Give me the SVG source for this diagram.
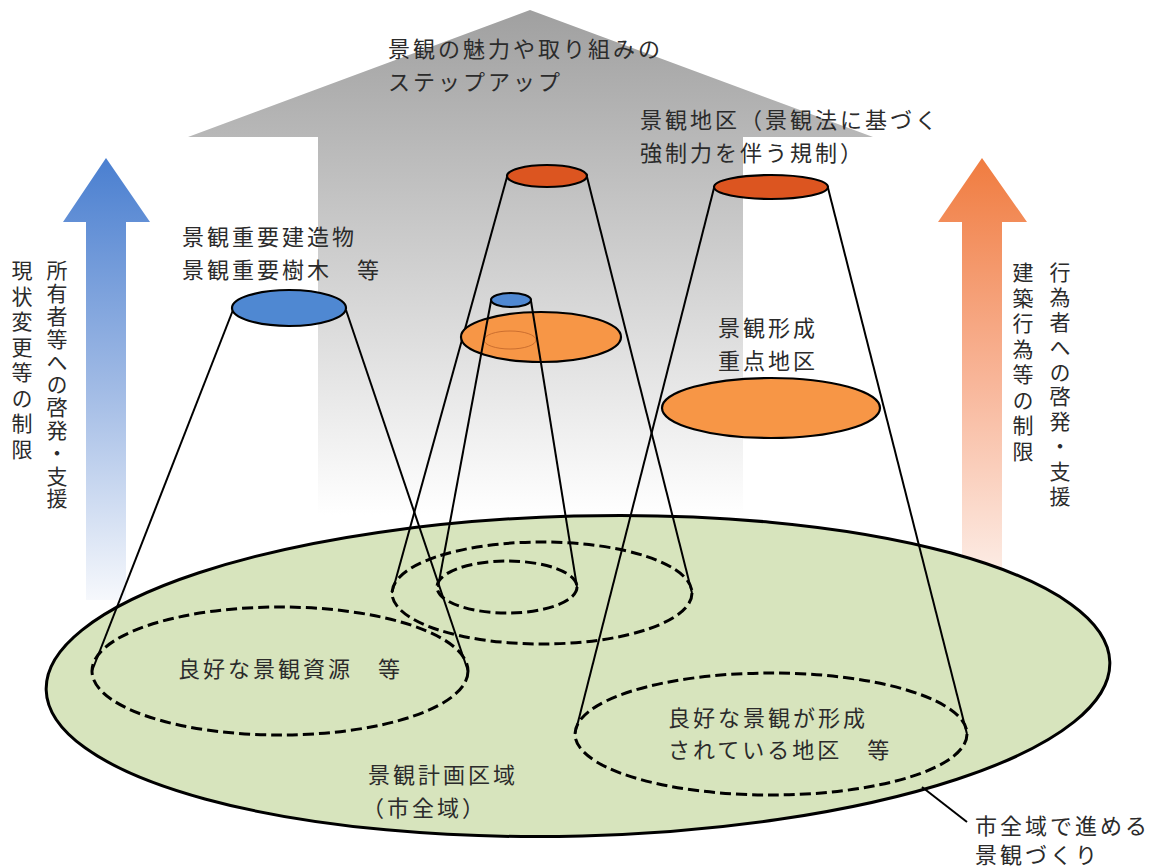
<svg xmlns="http://www.w3.org/2000/svg" width="1158" height="867" viewBox="0 0 1158 867">
<defs>
<linearGradient id="gGray" gradientUnits="userSpaceOnUse" x1="0" y1="10" x2="0" y2="515">
<stop offset="0" stop-color="#a0a0a0"/><stop offset="0.55" stop-color="#d4d4d4"/><stop offset="1" stop-color="#ffffff"/>
</linearGradient>
<linearGradient id="gBlue" gradientUnits="userSpaceOnUse" x1="0" y1="158" x2="0" y2="600">
<stop offset="0" stop-color="#4a7fd0"/><stop offset="0.5" stop-color="#9db8e4"/><stop offset="1" stop-color="#f6f8fc"/>
</linearGradient>
<linearGradient id="gOrange" gradientUnits="userSpaceOnUse" x1="0" y1="158" x2="0" y2="600">
<stop offset="0" stop-color="#f07c40"/><stop offset="0.5" stop-color="#f8b598"/><stop offset="1" stop-color="#fdf4f0"/>
</linearGradient>
<style>
text{font-family:"Noto Sans CJK JP","Noto Sans CJK SC",sans-serif;font-size:22px;fill:#2b2b2b;letter-spacing:3px}
.v{writing-mode:vertical-rl;text-orientation:upright;font-size:21px}
.v1{letter-spacing:4.5px}
.v2{letter-spacing:1.8px}
.v3{letter-spacing:3.8px}
.dash{fill:none;stroke:#000;stroke-width:3;stroke-dasharray:11 5}
.ln{stroke:#000;stroke-width:2;fill:none}
.top{stroke:#000;stroke-width:2.2}
.red{fill:#dc5520}
.org{fill:#f79646}
.blu{fill:#4f88d2}
</style>
</defs>

<g id="bg-arrows">
<path id="stepup-arrow" d="M530,10 L873,137 L743,137 L743,520 L318,520 L318,137 L188,137 Z" fill="url(#gGray)"/>
<path id="blue-arrow" d="M106,158 L150,222 L126,222 L126,600 L86,600 L86,222 L63,222 Z" fill="url(#gBlue)"/>
<path id="orange-arrow" d="M982,158 L1027,222 L1002,222 L1002,600 L962,600 L962,222 L938,222 Z" fill="url(#gOrange)"/>
</g>

<g id="city-area">
<ellipse cx="578" cy="676" rx="532" ry="160" transform="rotate(-1.5 578 676)" fill="#d7e4bd" stroke="#000" stroke-width="3"/>
</g>

<g id="zones">
<ellipse id="z-left" class="dash" cx="280" cy="671" rx="188" ry="64"/>
<ellipse id="z-right" class="dash" cx="771" cy="734" rx="196" ry="61"/>
<ellipse id="z-mid-outer" class="dash" cx="542" cy="593" rx="150" ry="51"/>
<ellipse id="z-mid-inner" class="dash" cx="507" cy="587" rx="70" ry="26"/>
</g>

<g id="connectors">
<line class="ln" x1="233" y1="310" x2="92" y2="671"/>
<line class="ln" x1="346" y1="310" x2="468" y2="671"/>
<line class="ln" x1="507" y1="177" x2="392" y2="593"/>
<line class="ln" x1="587" y1="177" x2="692" y2="593"/>
<line class="ln" x1="714" y1="188" x2="575" y2="734"/>
<line class="ln" x1="828" y1="188" x2="967" y2="734"/>
<line class="ln" x1="922" y1="787" x2="967" y2="822" stroke-width="1.3"/>
</g>

<g id="node-mid-orange">
<ellipse class="org top" cx="541" cy="337" rx="80" ry="25"/>
<ellipse cx="510" cy="340" rx="26" ry="9" fill="none" stroke="#c0642a" stroke-width="0.8"/>
</g>
<g id="node-small-cone">
<line class="ln" x1="491" y1="301" x2="438" y2="587"/>
<line class="ln" x1="531" y1="301" x2="577" y2="587"/>
<ellipse class="blu top" cx="511" cy="300" rx="20" ry="7"/>
</g>
<g id="node-blue-top"><ellipse class="blu top" cx="289" cy="308" rx="57" ry="18"/></g>
<g id="node-mid-top"><ellipse class="red top" cx="547" cy="176" rx="40" ry="11"/></g>
<g id="node-right-top"><ellipse class="red top" cx="771" cy="187" rx="57" ry="12"/></g>
<g id="node-right-orange"><ellipse class="org top" cx="771" cy="408" rx="109" ry="30"/></g>

<g id="labels">
<text x="388" y="57">景観の魅力や取り組みの</text>
<text x="388" y="90">ステップアップ</text>
<text x="640" y="128">景観地区（景観法に基づく</text>
<text x="640" y="161">強制力を伴う規制）</text>
<text x="182" y="245">景観重要建造物</text>
<text x="182" y="278">景観重要樹木　等</text>
<text x="718" y="336">景観形成</text>
<text x="718" y="369">重点地区</text>
<text x="178" y="677">良好な景観資源　等</text>
<text x="668" y="726">良好な景観が形成</text>
<text x="668" y="758">されている地区　等</text>
<text x="368" y="783">景観計画区域</text>
<text x="362" y="816">（市全域）</text>
<text x="975" y="834">市全域で進める</text>
<text x="975" y="863">景観づくり</text>
<text class="v v2" x="57" y="260">所有者等への啓発・支援</text>
<text class="v v1" x="22" y="260">現状変更等の制限</text>
<text class="v v3" x="1060" y="262">行為者への啓発・支援</text>
<text class="v v1" x="1023" y="262">建築行為等の制限</text>
</g>
</svg>
